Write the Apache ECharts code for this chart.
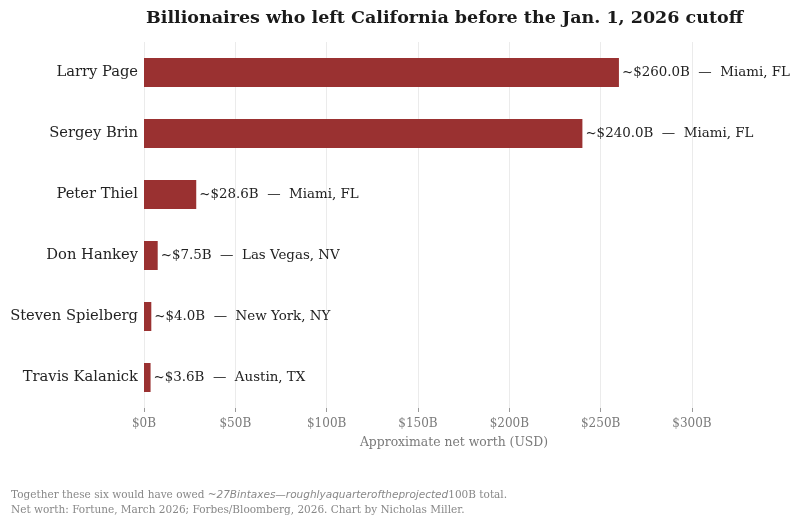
<html>
<head>
<meta charset="utf-8" />
<title>Billionaires who left California</title>
<script src="https://cdn.jsdelivr.net/npm/echarts@6/dist/echarts.min.js"></script>
<style type="text/css">
html, body { margin: 0; padding: 0; background: #fff; }
#main { width: 799px; height: 526px; }
</style>
</head>
<body>
<div id="main"></div>
<script type="text/javascript">
var names = ["Larry Page", "Sergey Brin", "Peter Thiel", "Don Hankey", "Steven Spielberg", "Travis Kalanick"];
var worth = [260.0, 240.0, 28.6, 7.5, 4.0, 3.6]; // billions USD
var cities = ["Miami, FL", "Miami, FL", "Miami, FL", "Las Vegas, NV", "New York, NY", "Austin, TX"];
var xTicks = [0, 50, 100, 150, 200, 250, 300];

var serif = "DejaVu Serif";
var myChart = echarts.init(document.getElementById("main"));

option = {
	backgroundColor: "#ffffff",
	animation: false,
	grid: {
		left: 144,
		right: 107,
		top: 42,
		bottom: 118,
	},
	xAxis: {
		type: "value",
		min: xTicks[0],
		max: xTicks[xTicks.length - 1],
		interval: 50,
		axisLine: { show: false },
		axisTick: { show: true, length: 4, lineStyle: { color: "#9a9a9a" } },
		axisLabel: {
			color: "#7a7a7a",
			fontFamily: serif,
			fontSize: 12,
			margin: 10,
			formatter: function (v) { return "$" + v + "B"; },
		},
		splitLine: { show: true, lineStyle: { color: "#ebebeb", width: 1 } },
	},
	yAxis: {
		type: "category",
		data: names,
		inverse: true,
		axisLine: { show: false },
		axisTick: { show: false },
		axisLabel: { color: "#222222", fontFamily: serif, fontSize: 14.7, margin: 6 },
	},
	series: [
		{
			type: "bar",
			data: worth,
			barWidth: 29,
			itemStyle: { color: "#9a3131" },
			label: {
				show: true,
				position: "right",
				distance: 3,
				color: "#222222",
				fontFamily: serif,
				fontSize: 13.4,
				formatter: function (p) {
					return "~$" + p.value.toFixed(1) + "B  \u2014  " + cities[p.dataIndex];
				},
			},
		},
	],
	graphic: [
		{
			type: "text",
			x: 444.5,
			y: 18,
			style: {
				text: "Billionaires who left California before the Jan. 1, 2026 cutoff",
				font: "bold 17.5px 'DejaVu Serif'",
				fill: "#1a1a1a",
				align: "center",
				verticalAlign: "middle",
			},
		},
		{
			type: "text",
			x: 454,
			y: 443,
			style: {
				text: "Approximate net worth (USD)",
				fontFamily: serif,
				fontSize: 12.4,
				fill: "#7a7a7a",
				align: "center",
				verticalAlign: "middle",
			},
		},
		{
			type: "text",
			left: 11,
			top: 490,
			style: {
				text: "{a|Together these six would have owed }{b|~27Bintaxes\u2014roughlyaquarteroftheprojected}{a|100B total.}",
				rich: {
					a: { fontFamily: serif, fontSize: 10.5, fill: "#888888" },
					b: { fontFamily: "DejaVu Sans", fontStyle: "italic", fontSize: 10.5, fill: "#888888" },
				},
			},
		},
		{
			type: "text",
			left: 11,
			top: 505,
			style: {
				text: "Net worth: Fortune, March 2026; Forbes/Bloomberg, 2026. Chart by Nicholas Miller.",
				fontFamily: serif,
				fontSize: 10.5,
				fill: "#888888",
			},
		},
	],
};

myChart.setOption(option);
</script>
</body>
</html>
